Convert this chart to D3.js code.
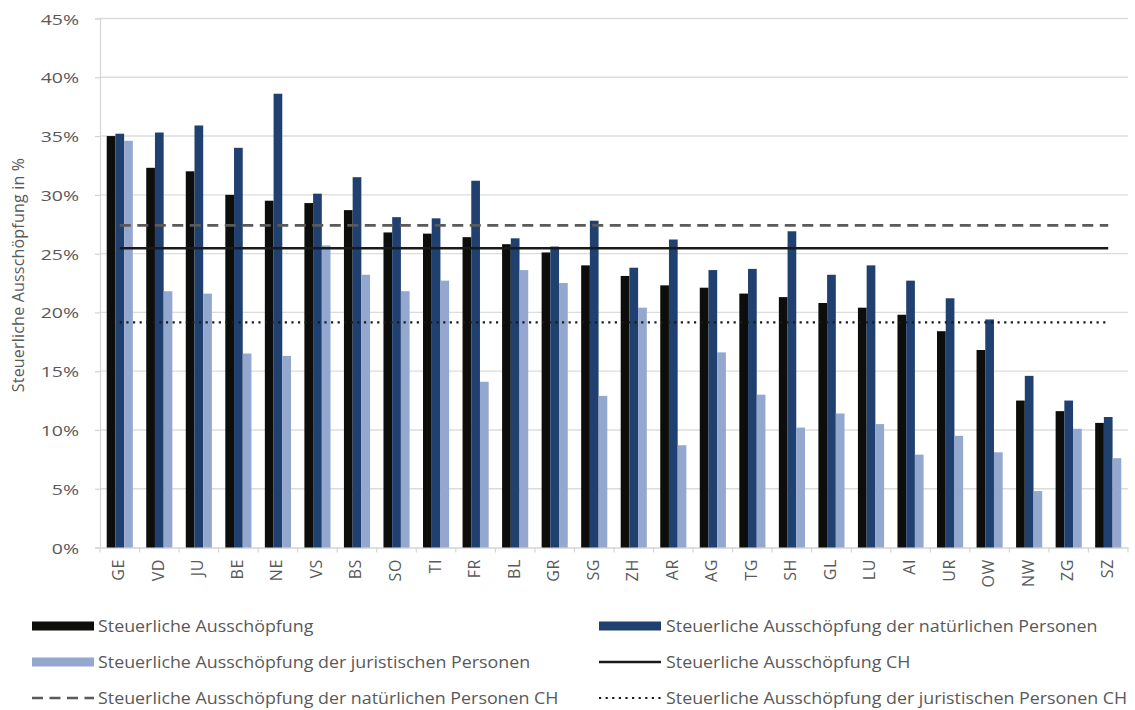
<!DOCTYPE html>
<html>
<head>
<meta charset="utf-8">
<script src="https://cdn.jsdelivr.net/npm/d3@7"></script>
<style>
  html, body { margin: 0; padding: 0; background: #ffffff; }
  svg { display: block; }
  text { font-family: "Open Sans", "Noto Sans", sans-serif; fill: #595959; }
</style>
</head>
<body>
<script>
// Cantons, ordered by overall tax exploitation
const categories = ["GE","VD","JU","BE","NE","VS","BS","SO","TI","FR","BL","GR","SG",
                    "ZH","AR","AG","TG","SH","GL","LU","AI","UR","OW","NW","ZG","SZ"];

// Steuerliche Ausschöpfung (%)
const gesamt = [35.0,32.3,32.0,30.0,29.5,29.3,28.7,26.8,26.7,26.4,25.8,25.1,24.0,
                23.1,22.3,22.1,21.6,21.3,20.8,20.4,19.8,18.4,16.8,12.5,11.6,10.6];
// Steuerliche Ausschöpfung der natürlichen Personen (%)
const natuerlich = [35.2,35.3,35.9,34.0,38.6,30.1,31.5,28.1,28.0,31.2,26.3,25.6,27.8,
                    23.8,26.2,23.6,23.7,26.9,23.2,24.0,22.7,21.2,19.4,14.6,12.5,11.1];
// Steuerliche Ausschöpfung der juristischen Personen (%)
const juristisch = [34.6,21.8,21.6,16.5,16.3,25.7,23.2,21.8,22.7,14.1,23.6,22.5,12.9,
                    20.4,8.7,16.6,13.0,10.2,11.4,10.5,7.9,9.5,8.1,4.8,10.1,7.6];

// Swiss averages (%)
const chGesamt = 25.45;
const chNatuerlich = 27.4;
const chJuristisch = 19.15;

const yTicks = [0,5,10,15,20,25,30,35,40,45];
const yTitle = "Steuerliche Ausschöpfung in %";

const seriesKeys = ["gesamt","natuerlich","juristisch"];
const seriesValues = { gesamt, natuerlich, juristisch };
const seriesColors = { gesamt: "#0d0d0b", natuerlich: "#20406f", juristisch: "#94a8cf" };

const legendItems = [
  { label: "Steuerliche Ausschöpfung", type: "bar", key: "gesamt" },
  { label: "Steuerliche Ausschöpfung der natürlichen Personen", type: "bar", key: "natuerlich" },
  { label: "Steuerliche Ausschöpfung der juristischen Personen", type: "bar", key: "juristisch" },
  { label: "Steuerliche Ausschöpfung CH", type: "line", key: "chGesamt" },
  { label: "Steuerliche Ausschöpfung der natürlichen Personen CH", type: "line", key: "chNatuerlich" },
  { label: "Steuerliche Ausschöpfung der juristischen Personen CH", type: "line", key: "chJuristisch" }
];

const refLines = [
  { key: "chGesamt", value: chGesamt, stroke: "#1a1a1a", width: 2.4, dash: null },
  { key: "chNatuerlich", value: chNatuerlich, stroke: "#5a5a5a", width: 2.6, dash: "11,6.5" },
  { key: "chJuristisch", value: chJuristisch, stroke: "#1a1a1a", width: 2.2, dash: "2.2,4.4" }
];
const refStyle = Object.fromEntries(refLines.map(d => [d.key, d]));

const W = 1135, H = 710;
const plot = { left: 100, right: 1128, top: 18.5, bottom: 547.5 };

const svg = d3.select("body").append("svg").attr("width", W).attr("height", H);

const x = d3.scaleBand().domain(categories).range([plot.left, plot.right])
  .paddingInner(0).paddingOuter(0);
const xs = d3.scaleBand().domain(seriesKeys).range([0, x.bandwidth()])
  .paddingInner(0).paddingOuter(0.77);
const y = d3.scaleLinear().domain([0, 45]).range([plot.bottom, plot.top]);

// horizontal gridlines
svg.append("g").selectAll("line")
  .data(yTicks.filter(d => d > 0))
  .join("line")
  .attr("x1", plot.left).attr("x2", plot.right)
  .attr("y1", d => y(d)).attr("y2", d => y(d))
  .attr("stroke", "#dcdcdc").attr("stroke-width", 1.4);

// y axis
const yAxis = svg.append("g")
  .attr("transform", `translate(${plot.left},0)`)
  .call(d3.axisLeft(y).tickValues(yTicks).tickSize(5).tickFormat(() => ""));
yAxis.select(".domain").attr("stroke", "#d4d4d4").attr("stroke-width", 1.2);
yAxis.selectAll(".tick line").attr("stroke", "#d4d4d4").attr("stroke-width", 1.2);

svg.append("g").selectAll("text")
  .data(yTicks)
  .join("text")
  .attr("transform", d => `translate(79,${y(d)}) scale(1.3,1)`)
  .attr("text-anchor", "end")
  .attr("dominant-baseline", "central")
  .style("font-size", "15px")
  .text(d => d + "%");

// x axis with ticks on category boundaries
const xAxis = svg.append("g")
  .attr("transform", `translate(0,${plot.bottom})`)
  .call(d3.axisBottom(x).tickSize(0).tickFormat(() => ""));
xAxis.select(".domain").attr("stroke", "#d4d4d4").attr("stroke-width", 1.4);
svg.append("g").selectAll("line")
  .data(categories.concat(["__end"]))
  .join("line")
  .attr("x1", (d, i) => i < categories.length ? x(d) : plot.right)
  .attr("x2", (d, i) => i < categories.length ? x(d) : plot.right)
  .attr("y1", plot.bottom).attr("y2", plot.bottom + 5)
  .attr("stroke", "#d4d4d4").attr("stroke-width", 1.2);

svg.append("g").selectAll("text")
  .data(categories)
  .join("text")
  .attr("transform", d => `translate(${x(d) + x.bandwidth() / 2},559) rotate(-90)`)
  .attr("text-anchor", "end")
  .attr("dy", "0.28em")
  .style("font-size", "16px")
  .style("letter-spacing", "0.6px")
  .text(d => d);

// bars
const groups = svg.append("g").selectAll("g")
  .data(categories)
  .join("g")
  .attr("transform", d => `translate(${x(d)},0)`);

groups.selectAll("rect")
  .data((d, i) => seriesKeys.map(k => ({ key: k, value: seriesValues[k][i] })))
  .join("rect")
  .attr("x", d => xs(d.key))
  .attr("width", xs.bandwidth())
  .attr("y", d => y(d.value))
  .attr("height", d => y(0) - y(d.value))
  .attr("fill", d => seriesColors[d.key]);

// Swiss average lines, drawn from the first to the last category centre
const xFirst = x(categories[0]) + x.bandwidth() / 2;
const xLast = x(categories[categories.length - 1]) + x.bandwidth() / 2;
svg.append("g").selectAll("line")
  .data(refLines)
  .join("line")
  .attr("x1", xFirst).attr("x2", xLast)
  .attr("y1", d => y(d.value)).attr("y2", d => y(d.value))
  .attr("stroke", d => d.stroke)
  .attr("stroke-width", d => d.width)
  .attr("stroke-dasharray", d => d.dash);

// y axis title
svg.append("text")
  .attr("transform", `translate(24,275) rotate(-90)`)
  .attr("text-anchor", "middle")
  .style("font-size", "16px")
  .style("letter-spacing", "0.2px")
  .text(yTitle);

// legend: two columns, three rows
const legendCols = [32, 599];
const legendRows = [626, 662, 698];
const legend = svg.append("g").selectAll("g")
  .data(legendItems)
  .join("g")
  .attr("transform", (d, i) => `translate(${legendCols[i % 2]},${legendRows[Math.floor(i / 2)]})`);

legend.filter(d => d.type === "bar").append("rect")
  .attr("x", 0).attr("y", -4.5).attr("width", 62).attr("height", 9)
  .attr("fill", d => seriesColors[d.key]);

legend.filter(d => d.type === "line").append("line")
  .attr("x1", 0).attr("x2", 62).attr("y1", 0).attr("y2", 0)
  .attr("stroke", d => refStyle[d.key].stroke)
  .attr("stroke-width", d => refStyle[d.key].width)
  .attr("stroke-dasharray", d => refStyle[d.key].dash);

legend.append("text")
  .attr("transform", (d, i) => `translate(${i % 2 ? 67 : 66},0) scale(1.115,1)`)
  .attr("dominant-baseline", "central")
  .style("font-size", "16px")
  .text(d => d.label);
</script>
</body>
</html>
